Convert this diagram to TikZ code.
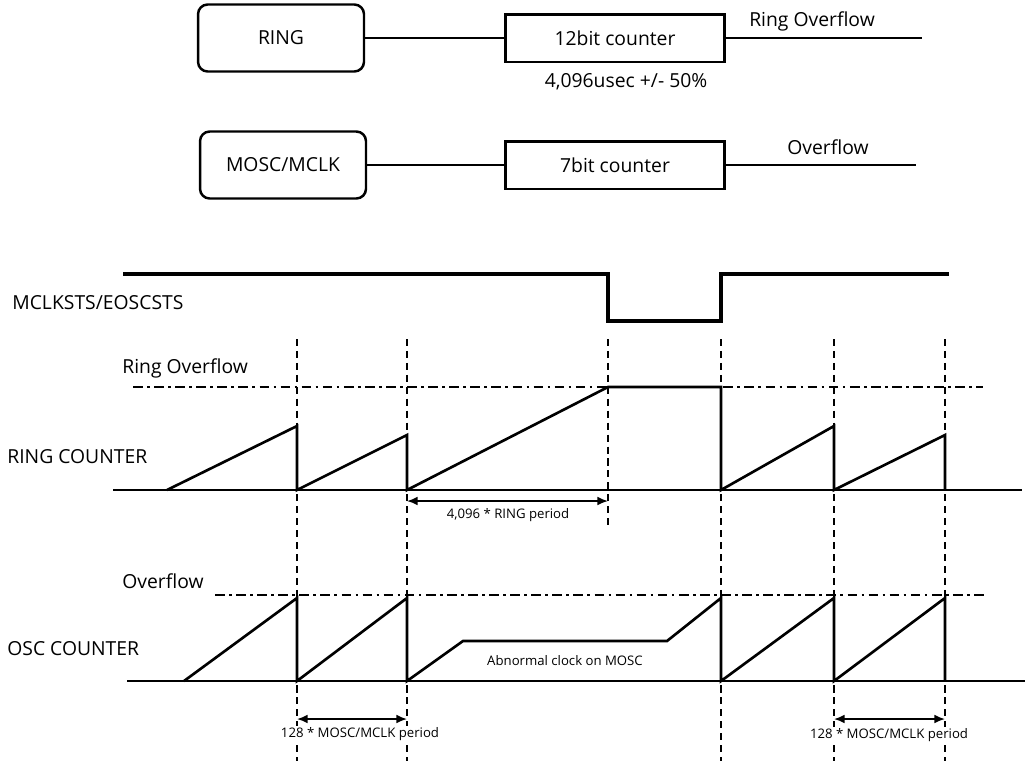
\documentclass[tikz,border=0pt]{standalone}
\usepackage{fontspec}
\setmainfont{Open Sans}
\usetikzlibrary{arrows.meta}
\tikzset{
  blk/.style={draw, line width=1.4pt, rounded corners=5.5pt, minimum width=3.32cm,
    minimum height=1.34cm, inner sep=0pt, font=\fontsize{11}{13}\selectfont},
  cnt/.style={draw, line width=1.7pt, minimum width=4.4cm, minimum height=0.96cm,
    inner sep=0pt, font=\fontsize{11}{13}\selectfont},
  lbl/.style={inner sep=0pt, font=\fontsize{11}{13}\selectfont},
  sml/.style={inner sep=1pt, fill=white, font=\fontsize{7.5}{9}\selectfont},
  wire/.style={line width=0.85pt},
  sig/.style={line width=1.5pt, line join=miter},
  guide/.style={line width=1.1pt, dash pattern=on 4pt off 2.8pt},
  lvl/.style={line width=0.9pt, dash pattern=on 5.5pt off 2.5pt on 1.5pt off 2.5pt},
  dim/.style={{Latex[length=6pt,width=5pt]}-{Latex[length=6pt,width=5pt]}, line width=1pt}
}
\begin{document}
\begin{tikzpicture}[x=0.02cm, y=-0.02cm]
\useasboundingbox (0,0) rectangle (1026,761);
% counters
\node[blk] (ring) at (281,38) {RING};
\node[cnt] (cnt12) at (615,38) {12bit counter};
\coordinate (ringout) at (922,38);
\draw[wire] (ring) -- (cnt12) -- (ringout);
\node[lbl] (ringovf) at (812,21) {Ring Overflow};
\node[lbl] (usec) at (626,82) {4,096usec +/- 50\%};
\node[blk] (mosc) at (283,165) {MOSC/MCLK};
\node[cnt] (cnt7) at (615,165) {7bit counter};
\coordinate (oscout) at (916,165);
\draw[wire] (mosc) -- (cnt7) -- (oscout);
\node[lbl] (oscovf) at (828,147) {Overflow};
% status signal
\draw[line width=2.4pt, line join=miter] (123,274) -- (608,274) -- (608,321)
  -- (721,321) -- (721,274) -- (949,274);
\node[lbl, anchor=west] (sts) at (12,303) {MCLKSTS/EOSCSTS};
% time marks
\foreach \t in {297,407,721,834,945}
  \draw[guide] (\t,339) -- (\t,761);
\draw[guide] (608,339) -- (608,525);
% ring counter
\coordinate (r0) at (167,490);
\coordinate (r1t) at (297,426);
\coordinate (r1) at (297,490);
\coordinate (r2t) at (407,435);
\coordinate (r2) at (407,490);
\coordinate (r3t) at (608,387);
\coordinate (r3h) at (721,387);
\coordinate (r4) at (721,490);
\coordinate (r4t) at (834,426);
\coordinate (r5) at (834,490);
\coordinate (r5t) at (945,435);
\coordinate (r6) at (945,490);
\node[lbl, anchor=west] (ringlvl) at (122,368) {Ring Overflow};
\draw[lvl] (133,387) -- (983,387);
\node[lbl, anchor=west] (ringcnt) at (7,457) {RING COUNTER};
\draw[wire] (113,490) -- (1022,490);
\draw[sig] (r0) -- (r1t) -- (r1) -- (r2t) -- (r2) -- (r3t) -- (r3h) -- (r4)
  -- (r4t) -- (r5) -- (r5t) -- (r6);
\coordinate (ra) at (407,501);
\coordinate (rb) at (608,501);
\draw[dim] (ra) -- (rb);
\node[sml] (ringper) at (508,515) {4,096 * RING period};
% osc counter
\coordinate (o0) at (184,681);
\coordinate (o1t) at (297,598);
\coordinate (o1) at (297,681);
\coordinate (o2t) at (407,598);
\coordinate (o2) at (407,681);
\coordinate (oa) at (463,641);
\coordinate (ob) at (667,641);
\coordinate (o3t) at (721,598);
\coordinate (o3) at (721,681);
\coordinate (o4t) at (834,598);
\coordinate (o4) at (834,681);
\coordinate (o5t) at (945,598);
\coordinate (o5) at (945,681);
\node[lbl, anchor=west] (osclvl) at (122,581) {Overflow};
\draw[lvl] (215,595) -- (985,595);
\node[lbl, anchor=west] (osccnt) at (7,649) {OSC COUNTER};
\draw[wire] (127,681) -- (1025,681);
\draw[sig] (o0) -- (o1t) -- (o1) -- (o2t) -- (o2) -- (oa) -- (ob) -- (o3t) -- (o3)
  -- (o4t) -- (o4) -- (o5t) -- (o5);
\node[sml] (abn) at (565,661) {Abnormal clock on MOSC};
\coordinate (oa1) at (297,719);
\coordinate (ob1) at (407,719);
\draw[dim] (oa1) -- (ob1);
\node[sml] (oscper1) at (360,734) {128 * MOSC/MCLK period};
\coordinate (oa2) at (834,719);
\coordinate (ob2) at (945,719);
\draw[dim] (oa2) -- (ob2);
\node[sml] (oscper2) at (889,735) {128 * MOSC/MCLK period};
\end{tikzpicture}
\end{document}
